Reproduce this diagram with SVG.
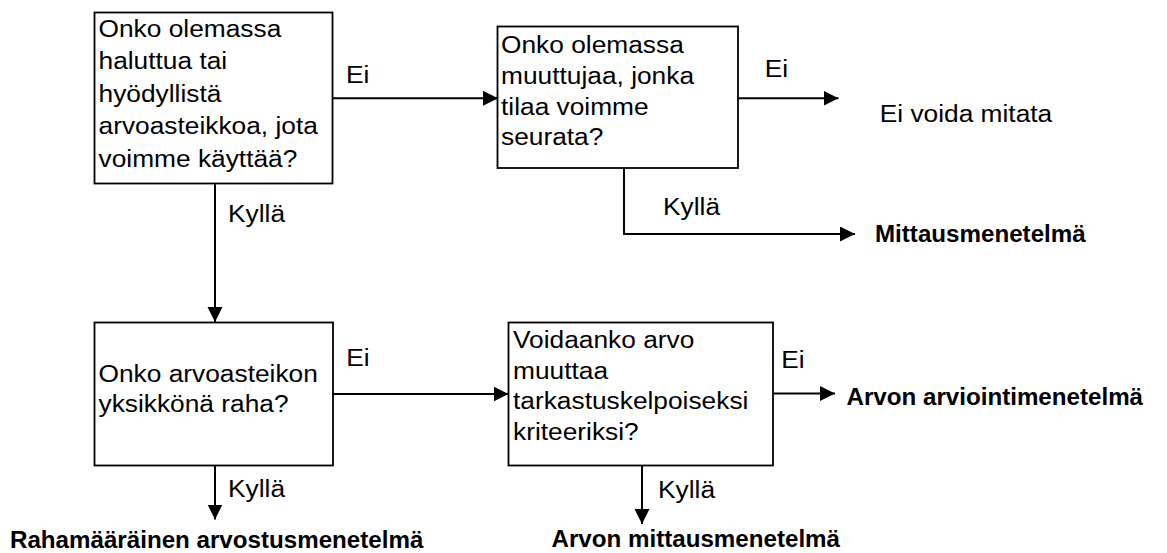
<svg xmlns="http://www.w3.org/2000/svg" width="1167" height="553" viewBox="0 0 1167 553">
  <style>
    .box { fill: #ffffff; stroke: #000000; stroke-width: 1.8; }
    .wire { fill: none; stroke: #000000; stroke-width: 2; }
    .q { font-family: "Liberation Sans", Arial, sans-serif; font-size: 23.5px; fill: #000000; }
    .out { font-family: "Liberation Sans", Arial, sans-serif; font-size: 23px; font-weight: bold; fill: #000000; }
  </style>
  <defs>
    <marker id="head" markerUnits="userSpaceOnUse" markerWidth="16" markerHeight="16" refX="15" refY="7.5" orient="auto">
      <path d="M0,0 L15,7.5 L0,15 Z" fill="#000000"/>
    </marker>
  </defs>

  <rect width="1167" height="553" fill="#ffffff"/>

  <!-- connectors -->
  <g id="connectors">
    <path class="wire" d="M333,98.3 H498" marker-end="url(#head)"/>
    <path class="wire" d="M738,98.3 H838.5" marker-end="url(#head)"/>
    <path class="wire" d="M624,168 V234 H855" marker-end="url(#head)"/>
    <path class="wire" d="M215,184 V322" marker-end="url(#head)"/>
    <path class="wire" d="M333,394 H508.5" marker-end="url(#head)"/>
    <path class="wire" d="M773,393.5 H835" marker-end="url(#head)"/>
    <path class="wire" d="M215,466 V519.5" marker-end="url(#head)"/>
    <path class="wire" d="M642,466 V524" marker-end="url(#head)"/>
    <!-- branch labels -->
    <text class="q" transform="translate(346 0) scale(1.12 1)" x="0" y="82.7">Ei</text>
    <text class="q" transform="translate(764.7 0) scale(1.12 1)" x="0" y="77">Ei</text>
    <text class="q" transform="translate(663 0) scale(1.12 1)" x="0" y="215">Kyllä</text>
    <text class="q" transform="translate(228 0) scale(1.12 1)" x="0" y="222">Kyllä</text>
    <text class="q" transform="translate(346.3 0) scale(1.12 1)" x="0" y="366">Ei</text>
    <text class="q" transform="translate(781.3 0) scale(1.12 1)" x="0" y="368.3">Ei</text>
    <text class="q" transform="translate(228 0) scale(1.12 1)" x="0" y="496.7">Kyllä</text>
    <text class="q" transform="translate(658 0) scale(1.12 1)" x="0" y="498.3">Kyllä</text>
  </g>

  <!-- decision: desired or useful value scale -->
  <g id="q-scale">
    <rect class="box" x="94.5" y="12.5" width="238" height="171"/>
    <text class="q" transform="translate(98.5 0) scale(1.12 1)">
      <tspan x="0" y="36.7">Onko olemassa</tspan>
      <tspan x="0" y="69.2">haluttua tai</tspan>
      <tspan x="0" y="101.7">hyödyllistä</tspan>
      <tspan x="0" y="134.2">arvoasteikkoa, jota</tspan>
      <tspan x="0" y="166.7">voimme käyttää?</tspan>
    </text>
  </g>

  <!-- decision: observable variable -->
  <g id="q-variable">
    <rect class="box" x="497.5" y="26.5" width="240.5" height="141.5"/>
    <text class="q" transform="translate(501 0) scale(1.12 1)">
      <tspan x="0" y="53.3">Onko olemassa</tspan>
      <tspan x="0" y="84">muuttujaa, jonka</tspan>
      <tspan x="0" y="114.7">tilaa voimme</tspan>
      <tspan x="0" y="145.4">seurata?</tspan>
    </text>
  </g>

  <!-- decision: money as unit -->
  <g id="q-money">
    <rect class="box" x="94.5" y="322.5" width="238.5" height="143"/>
    <text class="q" transform="translate(98.5 0) scale(1.12 1)">
      <tspan x="0" y="381.7">Onko arvoasteikon</tspan>
      <tspan x="0" y="411.7">yksikkönä raha?</tspan>
    </text>
  </g>

  <!-- decision: checkable criteria -->
  <g id="q-criteria">
    <rect class="box" x="508.5" y="322.5" width="264.5" height="143"/>
    <text class="q" transform="translate(513 0) scale(1.12 1)">
      <tspan x="0" y="348.5">Voidaanko arvo</tspan>
      <tspan x="0" y="379">muuttaa</tspan>
      <tspan x="0" y="409.5">tarkastuskelpoiseksi</tspan>
      <tspan x="0" y="440">kriteeriksi?</tspan>
    </text>
  </g>

  <!-- outcomes -->
  <g id="end-none">
    <text class="q" transform="translate(879.7 0) scale(1.12 1)" x="0" y="121.7">Ei voida mitata</text>
  </g>
  <g id="end-measurement">
    <text class="out" transform="translate(875 0) scale(1.05 1)" x="0" y="241.7">Mittausmenetelmä</text>
  </g>
  <g id="end-estimation">
    <text class="out" transform="translate(846.5 0) scale(1.05 1)" x="0" y="405">Arvon arviointimenetelmä</text>
  </g>
  <g id="end-monetary">
    <text class="out" transform="translate(10 0) scale(1.05 1)" x="0" y="548.3">Rahamääräinen arvostusmenetelmä</text>
  </g>
  <g id="end-value-measurement">
    <text class="out" transform="translate(551.5 0) scale(1.05 1)" x="0" y="547.3">Arvon mittausmenetelmä</text>
  </g>
</svg>
